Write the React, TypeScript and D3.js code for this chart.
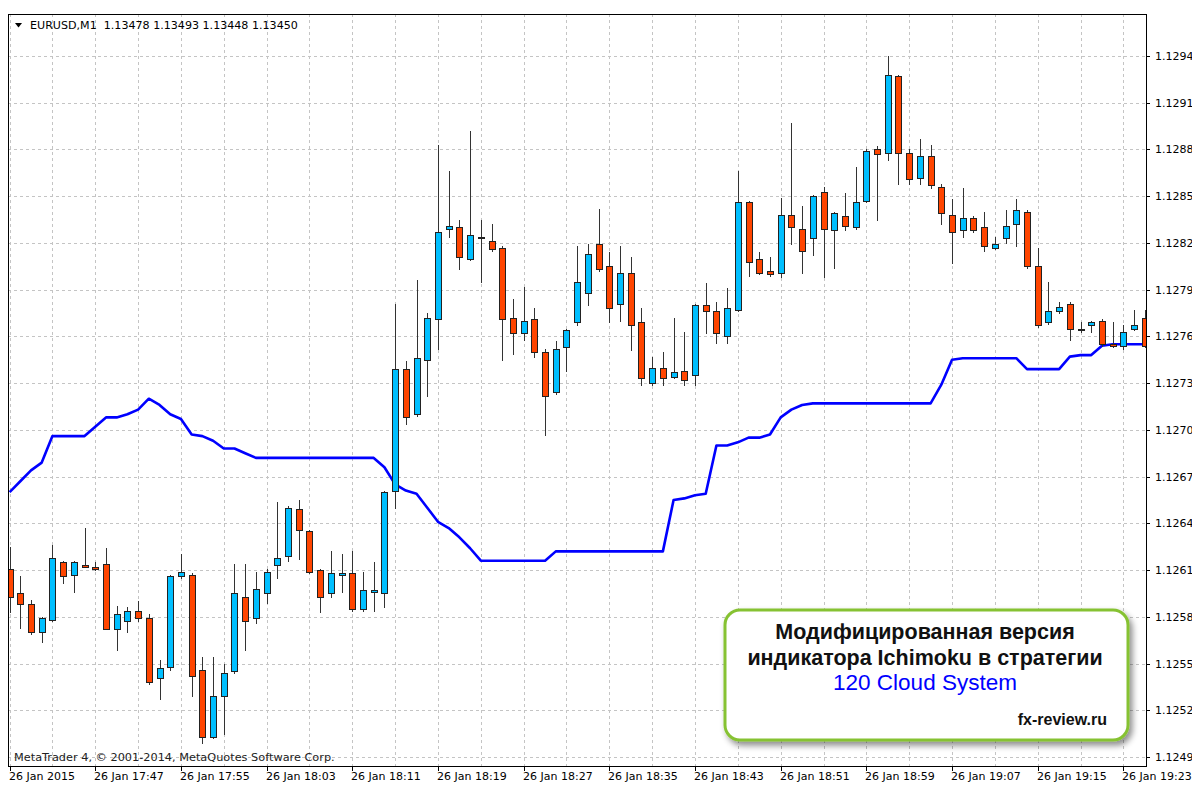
import React from "react";
import * as d3 from "d3";

// EURUSD M1, 26 Jan 2015, bars from 17:39 to 19:25
const opens = [
  1.12611, 1.12595, 1.12588, 1.1257, 1.12578, 1.12615, 1.12607, 1.12613, 1.12612, 1.12614,
  1.12572, 1.12577, 1.12584, 1.12579, 1.12541, 1.12548, 1.12606, 1.12607, 1.12546, 1.12503,
  1.12529, 1.12545, 1.12593, 1.12579, 1.12595, 1.12613, 1.12619, 1.12649, 1.12635, 1.1261,
  1.12595, 1.12607, 1.12608, 1.12585, 1.12596, 1.12595, 1.12661, 1.12739, 1.1271, 1.12745,
  1.12771, 1.12829, 1.1283, 1.1281, 1.12824, 1.12821, 1.12817, 1.12772, 1.12762, 1.12771,
  1.1275, 1.12724, 1.12753, 1.12769, 1.12788, 1.12819, 1.12805, 1.12781, 1.12801, 1.12769,
  1.1273, 1.1274, 1.12734, 1.12738, 1.12735, 1.1278, 1.12776, 1.1276, 1.12777, 1.12846,
  1.1281, 1.12802, 1.12801, 1.12838, 1.12829, 1.12823, 1.12853, 1.12828, 1.12837, 1.1283,
  1.12847, 1.1288, 1.12878, 1.12927, 1.12878, 1.12862, 1.12876, 1.12856, 1.12838, 1.12828,
  1.12836, 1.1283, 1.12817, 1.12823, 1.12832, 1.1284, 1.12805, 1.12769, 1.12776, 1.12781,
  1.12765, 1.12767, 1.1277, 1.12755, 1.12754, 1.12765, 1.12772,
];
const highs = [
  1.12625, 1.12606, 1.12591, 1.1258, 1.12626, 1.12616, 1.12616, 1.12637, 1.12615, 1.12624,
  1.12587, 1.12586, 1.1259, 1.12582, 1.12552, 1.12607, 1.1262, 1.12608, 1.12554, 1.12554,
  1.1255, 1.12614, 1.12614, 1.12609, 1.12611, 1.12654, 1.12651, 1.12655, 1.12636, 1.12611,
  1.12622, 1.1262, 1.12622, 1.12609, 1.12615, 1.12661, 1.12781, 1.12744, 1.12796, 1.12775,
  1.12883, 1.12866, 1.12835, 1.12892, 1.12835, 1.12832, 1.12818, 1.12784, 1.12792, 1.12778,
  1.12752, 1.12757, 1.12765, 1.12818, 1.12819, 1.12842, 1.12814, 1.12818, 1.12811, 1.12778,
  1.12747, 1.1275, 1.12772, 1.12763, 1.12781, 1.12794, 1.12782, 1.12791, 1.12866, 1.12847,
  1.12814, 1.12811, 1.12849, 1.12897, 1.12844, 1.12851, 1.12856, 1.1284, 1.12852, 1.12869,
  1.1288, 1.12882, 1.1294, 1.12928, 1.1288, 1.12887, 1.12883, 1.12858, 1.12848, 1.12855,
  1.12837, 1.1284, 1.12824, 1.12841, 1.12848, 1.12841, 1.12817, 1.12795, 1.12782, 1.12782,
  1.12769, 1.1277, 1.12771, 1.12769, 1.12767, 1.12777, 1.12777,
];
const lows = [
  1.12583, 1.12573, 1.12569, 1.12564, 1.12577, 1.12602, 1.12596, 1.12612, 1.1261, 1.12572,
  1.12559, 1.1257, 1.12577, 1.12537, 1.12527, 1.12546, 1.12605, 1.12529, 1.12499, 1.12502,
  1.12505, 1.12544, 1.12559, 1.12576, 1.12589, 1.12605, 1.12616, 1.12617, 1.12608, 1.12583,
  1.12593, 1.12596, 1.12584, 1.12584, 1.12584, 1.12586, 1.1265, 1.12704, 1.12709, 1.12722,
  1.12752, 1.12824, 1.12803, 1.12809, 1.12795, 1.12815, 1.12745, 1.12749, 1.12758, 1.12747,
  1.12697, 1.12723, 1.12738, 1.12767, 1.1278, 1.12802, 1.12769, 1.1277, 1.12751, 1.12729,
  1.12729, 1.12729, 1.12733, 1.12729, 1.12729, 1.12762, 1.12756, 1.12756, 1.12776, 1.12799,
  1.128, 1.12799, 1.12798, 1.12819, 1.12801, 1.12812, 1.12798, 1.12804, 1.12828, 1.12829,
  1.12846, 1.12835, 1.12873, 1.12858, 1.12858, 1.12858, 1.12855, 1.12832, 1.12807, 1.12824,
  1.12827, 1.12815, 1.12816, 1.1282, 1.12818, 1.12804, 1.12766, 1.12768, 1.12775, 1.12758,
  1.12763, 1.12763, 1.12754, 1.12753, 1.12752, 1.12764, 1.12753,
];
const closes = [
  1.12593, 1.12588, 1.1257, 1.12579, 1.12618, 1.12606, 1.12615, 1.12612, 1.12611, 1.12572,
  1.12582, 1.12584, 1.12579, 1.12538, 1.12547, 1.12606, 1.12609, 1.12542, 1.12503, 1.12529,
  1.12544, 1.12595, 1.12577, 1.12598, 1.12609, 1.12618, 1.1265, 1.12636, 1.12609, 1.12593,
  1.12608, 1.12608, 1.12585, 1.12597, 1.12597, 1.1266, 1.12739, 1.12708, 1.12746, 1.12772,
  1.12827, 1.12831, 1.12811, 1.12825, 1.12823, 1.12816, 1.12771, 1.12762, 1.1277, 1.1275,
  1.12722, 1.12752, 1.12764, 1.12795, 1.12813, 1.12803, 1.12778, 1.12801, 1.12767, 1.12733,
  1.1274, 1.12733, 1.12737, 1.12732, 1.1278, 1.12776, 1.12762, 1.12778, 1.12846, 1.12808,
  1.12801, 1.128, 1.12838, 1.1283, 1.12815, 1.1285, 1.12829, 1.12839, 1.12831, 1.12846,
  1.12879, 1.12877, 1.12928, 1.12878, 1.12861, 1.12876, 1.12857, 1.12839, 1.12827, 1.12836,
  1.12828, 1.12818, 1.12819, 1.12831, 1.12841, 1.12805, 1.12767, 1.12776, 1.12779, 1.12765,
  1.12764, 1.12769, 1.12755, 1.12754, 1.12763, 1.12767, 1.12754,
];
// modified Ichimoku line (120 Cloud System)
const cloudLine = [
  1.1266, 1.12667, 1.12674, 1.12679, 1.12696, 1.12696, 1.12696, 1.12696, 1.12702, 1.12708,
  1.12708, 1.1271, 1.12713, 1.1272, 1.12716, 1.1271, 1.12707, 1.12697, 1.12696, 1.12693,
  1.12688, 1.12688, 1.12685, 1.12682, 1.12682, 1.12682, 1.12682, 1.12682, 1.12682, 1.12682,
  1.12682, 1.12682, 1.12682, 1.12682, 1.12682, 1.12676, 1.12665, 1.12661, 1.12659, 1.1265,
  1.12641, 1.12637, 1.12631, 1.12624, 1.12616, 1.12616, 1.12616, 1.12616, 1.12616, 1.12616,
  1.12616, 1.12622, 1.12622, 1.12622, 1.12622, 1.12622, 1.12622, 1.12622, 1.12622, 1.12622,
  1.12622, 1.12622, 1.12655, 1.12656, 1.12658, 1.12659, 1.1269, 1.1269, 1.12692, 1.12695,
  1.12695, 1.12697, 1.12708, 1.12713, 1.12716, 1.12717, 1.12717, 1.12717, 1.12717, 1.12717,
  1.12717, 1.12717, 1.12717, 1.12717, 1.12717, 1.12717, 1.12717, 1.12729, 1.12745, 1.12746,
  1.12746, 1.12746, 1.12746, 1.12746, 1.12746, 1.12739, 1.12739, 1.12739, 1.12739, 1.12747,
  1.12748, 1.12748, 1.12754, 1.12755, 1.12755, 1.12755, 1.12755,
];
const timeLabels = [
  "26 Jan 2015", "26 Jan 17:47", "26 Jan 17:55", "26 Jan 18:03", "26 Jan 18:11",
  "26 Jan 18:19", "26 Jan 18:27", "26 Jan 18:35", "26 Jan 18:43", "26 Jan 18:51",
  "26 Jan 18:59", "26 Jan 19:07", "26 Jan 19:15", "26 Jan 19:23",
];
const priceTicks = [
  1.1249, 1.1252, 1.1255, 1.1258, 1.1261, 1.1264, 1.1267, 1.127, 1.1273, 1.1276,
  1.1279, 1.1282, 1.1285, 1.1288, 1.1291, 1.1294,
];
const headerText = "EURUSD,M1  1.13478 1.13493 1.13448 1.13450";
const copyright = "MetaTrader 4, \u00a9 2001-2014, MetaQuotes Software Corp.";
const boxLines = ["Модифицированная версия", "индикатора Ichimoku в стратегии"];
const boxSystem = "120 Cloud System";
const boxSite = "fx-review.ru";

const W = 1192;
const H = 787;
const plot = { left: 8, top: 14, right: 1146, bottom: 766 };
const axisFont = "'DejaVu Sans', Tahoma, sans-serif";
const boxFont = "'Liberation Sans', Arial, sans-serif";
const BULL = "#00bfff";
const BEAR = "#ff4500";

export default function App() {
  const n = closes.length;
  const x = d3.scaleLinear().domain([0, n - 1]).range([9.6, 1144.8]);
  const y = d3.scaleLinear().domain([1.1249, 1.1294]).range([757, 56]);
  const px = (v: number) => Math.round(v) + 0.5;

  const line = d3
    .line<number>()
    .x((_, i) => x(i))
    .y((d) => y(d));

  const vGrid = d3.range(0, n, 4);
  const labelBars = timeLabels.map((_, i) => i * 8);

  return (
    <svg
      width={W}
      height={H}
      style={{ position: "absolute", left: 0, top: 0, background: "#fff" }}
    >
      <defs>
        <clipPath id="plotClip">
          <rect
            x={plot.left + 1}
            y={plot.top + 1}
            width={plot.right - plot.left - 1}
            height={plot.bottom - plot.top - 1}
          />
        </clipPath>
        <filter id="boxShadow" x="-10%" y="-10%" width="125%" height="140%">
          <feDropShadow dx="3" dy="4" stdDeviation="3" floodColor="#000" floodOpacity="0.45" />
        </filter>
      </defs>

      {/* grid */}
      <g stroke="#c4c4c4" strokeDasharray="3,3" shapeRendering="crispEdges">
        {priceTicks.map((t) => (
          <line key={"h" + t} x1={plot.left} x2={plot.right} y1={px(y(t))} y2={px(y(t))} />
        ))}
        {vGrid.map((i) => (
          <line key={"v" + i} x1={px(x(i))} x2={px(x(i))} y1={plot.top} y2={plot.bottom} />
        ))}
      </g>

      <text x={14} y={761} fontFamily={axisFont} fontSize={11.3} fill="#222">
        {copyright}
      </text>

      <g clipPath="url(#plotClip)">
        <path
          d={line(cloudLine) || ""}
          fill="none"
          stroke="#0000ff"
          strokeWidth={2.6}
          strokeLinejoin="round"
        />
        {closes.map((c, i) => {
          const o = opens[i];
          const cx = Math.round(x(i));
          const top = Math.round(y(Math.max(o, c)));
          const bot = Math.round(y(Math.min(o, c)));
          return (
            <g key={i} shapeRendering="crispEdges">
              <line
                x1={cx + 0.5}
                x2={cx + 0.5}
                y1={Math.round(y(highs[i]))}
                y2={Math.round(y(lows[i])) + 1}
                stroke="#333"
              />
              <rect
                x={cx - 2.5}
                y={top + 0.5}
                width={6}
                height={Math.max(1, bot - top)}
                fill={c >= o ? BULL : BEAR}
                stroke="#222"
              />
            </g>
          );
        })}
      </g>

      {/* frame */}
      <rect
        x={plot.left + 0.5}
        y={plot.top + 0.5}
        width={plot.right - plot.left}
        height={plot.bottom - plot.top}
        fill="none"
        stroke="#000"
        shapeRendering="crispEdges"
      />

      {/* header */}
      <path d="M15,23 L22,23 L18.5,27.5 Z" fill="#000" />
      <text x={30} y={29} fontFamily={axisFont} fontSize={11.1} fill="#000" xmlSpace="preserve" style={{ whiteSpace: "pre" }}>
        {headerText}
      </text>

      {/* price axis */}
      <g fontFamily={axisFont} fontSize={11} fill="#000">
        {priceTicks.map((t) => (
          <g key={"p" + t}>
            <line
              x1={plot.right}
              x2={plot.right + 4}
              y1={px(y(t))}
              y2={px(y(t))}
              stroke="#000"
              shapeRendering="crispEdges"
            />
            <text x={1155} y={y(t) + 4}>
              {d3.format(".4f")(t)}
            </text>
          </g>
        ))}
      </g>

      {/* time axis */}
      <g fontFamily={axisFont} fontSize={11} fill="#000">
        {labelBars.map((b, k) => (
          <g key={"t" + b}>
            <line
              x1={px(x(b))}
              x2={px(x(b))}
              y1={plot.bottom}
              y2={plot.bottom + 5}
              stroke="#000"
              shapeRendering="crispEdges"
            />
            <text x={Math.round(x(b)) - 1} y={780}>
              {timeLabels[k]}
            </text>
          </g>
        ))}
      </g>

      {/* caption box */}
      <rect
        x={725}
        y={610}
        width={403}
        height={130}
        rx={15}
        fill="#fff"
        stroke="#86c232"
        strokeWidth={3}
        filter="url(#boxShadow)"
      />
      <g fontFamily={boxFont} textAnchor="middle">
        <text x={925} y={639} fontSize={21.5} fontWeight="bold" fill="#111">
          {boxLines[0]}
        </text>
        <text x={925} y={665} fontSize={21.5} fontWeight="bold" fill="#111">
          {boxLines[1]}
        </text>
        <text x={925} y={690} fontSize={22.5} fill="#0000ff">
          {boxSystem}
        </text>
      </g>
      <text
        x={1107}
        y={725}
        fontFamily={boxFont}
        fontSize={16}
        fontWeight="bold"
        textAnchor="end"
        fill="#111"
      >
        {boxSite}
      </text>
    </svg>
  );
}
